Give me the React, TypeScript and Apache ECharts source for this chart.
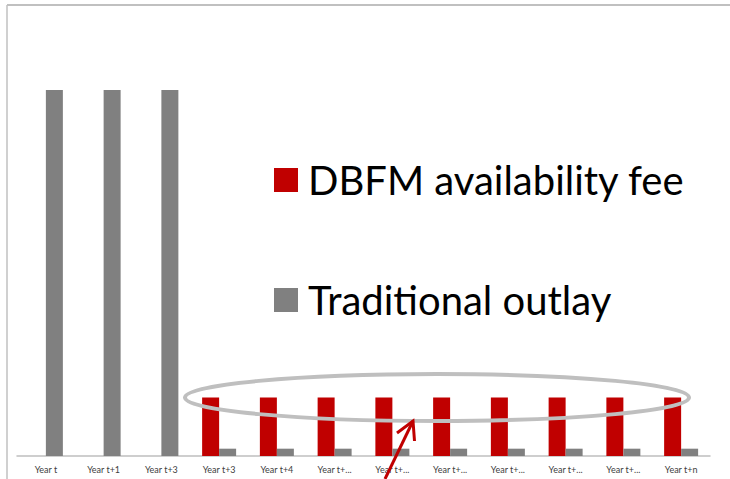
import React, { useEffect, useRef } from "react";
import * as echarts from "echarts";

const categories = [
  "Year t",
  "Year t+1",
  "Year t+3",
  "Year t+3",
  "Year t+4",
  "Year t+...",
  "Year t+...",
  "Year t+...",
  "Year t+...",
  "Year t+...",
  "Year t+...",
  "Year t+n",
];
const dbfmFee = [null, null, null, 16, 16, 16, 16, 16, 16, 16, 16, 16];
const traditionalOutlay = [100, 100, 100, 2, 2, 2, 2, 2, 2, 2, 2, 2];
const seriesNames = ["DBFM availability fee", "Traditional outlay"];

export default function App() {
  const ref = useRef<HTMLDivElement>(null);
  useEffect(() => {
    if (!ref.current) return;
    const chart = echarts.init(ref.current, null, { renderer: "svg" });
    chart.setOption({
      animation: false,
      backgroundColor: "#ffffff",
      grid: { left: 17, right: 20, top: 90, bottom: 23, outerBoundsMode: "none" },
      legend: {
        orient: "vertical",
        left: 274,
        top: 160,
        padding: 0,
        itemWidth: 24,
        itemHeight: 24,
        itemGap: 80,
        icon: "rect",
        selectedMode: false,
        data: seriesNames,
        textStyle: {
          fontFamily: "Lato",
          fontSize: 40,
          color: "#000000",
          lineHeight: 40,
          padding: [0, 0, 0, 5],
        },
      },
      xAxis: {
        type: "category",
        data: categories,
        axisLine: { lineStyle: { color: "#bfbfbf", width: 1.5 } },
        axisTick: { inside: true, length: 3, lineStyle: { color: "#bfbfbf" } },
        axisLabel: {
          interval: 0,
          fontFamily: "Lato",
          fontSize: 9,
          color: "#404040",
          margin: 9,
        },
      },
      yAxis: { type: "value", min: 0, max: 100, show: false },
      series: [
        {
          name: seriesNames[0],
          type: "bar",
          data: dbfmFee,
          barWidth: 17,
          barGap: "0%",
          itemStyle: { color: "#c00000" },
          silent: true,
        },
        {
          name: seriesNames[1],
          type: "bar",
          data: traditionalOutlay,
          barWidth: 17,
          itemStyle: { color: "#808080" },
          silent: true,
        },
      ],
      graphic: [
        {
          type: "line",
          z: 100,
          shape: { x1: 7, y1: 5, x2: 730, y2: 5 },
          style: { stroke: "#c0c0c0", lineWidth: 2 },
        },
        {
          type: "line",
          z: 100,
          shape: { x1: 7, y1: 5, x2: 7, y2: 479 },
          style: { stroke: "#c0c0c0", lineWidth: 1.5 },
        },
        {
          type: "ellipse",
          z: 100,
          shape: { cx: 437, cy: 397.5, rx: 252, ry: 23.5 },
          style: { fill: "none", stroke: "#bfbfbf", lineWidth: 4 },
        },
        {
          type: "line",
          z: 101,
          shape: { x1: 385, y1: 479, x2: 413, y2: 421 },
          style: { stroke: "#c00000", lineWidth: 3 },
        },
        {
          type: "polyline",
          z: 101,
          shape: { points: [[397, 433], [413, 421], [414.5, 441]] },
          style: { stroke: "#c00000", lineWidth: 3, fill: "none" },
        },
      ],
    });
    return () => chart.dispose();
  }, []);
  return (
    <div
      ref={ref}
      style={{ position: "fixed", left: 0, top: 0, width: 730, height: 479 }}
    />
  );
}
